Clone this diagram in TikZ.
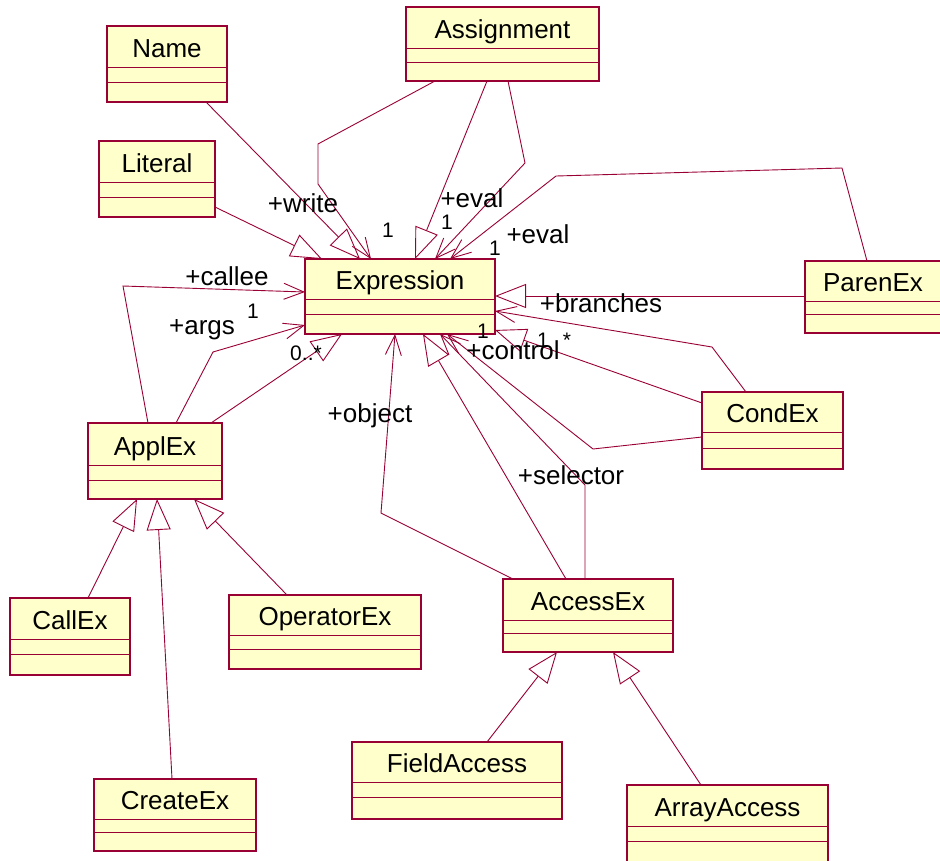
\documentclass[tikz,border=0pt]{standalone}
\usepackage{fontspec}
\setmainfont{Liberation Sans}
\usetikzlibrary{arrows.meta}

\definecolor{umlline}{RGB}{153,0,51}
\definecolor{umlfill}{RGB}{255,255,204}

\tikzset{
  classbox/.style={draw=umlline, fill=umlfill, line width=1.3pt,
    inner sep=0pt, outer sep=0pt, anchor=north west},
  compline/.style={draw=umlline, line width=1pt},
  classname/.style={font=\fontsize{26}{30}\selectfont, anchor=base, inner sep=0pt},
  rolelabel/.style={font=\fontsize{26}{30}\selectfont, anchor=base, inner sep=0pt},
  multlabel/.style={font=\fontsize{21}{24}\selectfont, anchor=base, inner sep=0pt},
  link/.style={draw=umlline, line width=0.9pt},
  assoc/.style={link, -{Straight Barb[length=20pt,width=16pt]}},
  inherit/.style={link, -{Triangle[open,length=31pt,width=24pt]}},
}

% \umlclass{name}{x1}{y1}{x2}{y2}{first divider y}{second divider y}{title}
\newcommand{\umlclass}[8]{%
  \node[classbox, minimum width={#4pt-#2pt}, minimum height={#5pt-#3pt}] (#1) at (#2,#3) {};
  \draw[compline] (#2,#6) -- (#4,#6) (#2,#7) -- (#4,#7);
  \node[classname] (#1-title) at ({(#2+#4)/2},{#6-9.5}) {#8};
}

\begin{document}
\begin{tikzpicture}[x=1pt,y=-1pt]
  \useasboundingbox (0,0) rectangle (940,860);

  % classes
  \umlclass{name}{107}{26}{227}{102}{67}{82}{Name}
  \umlclass{asg}{406}{7}{599}{81}{48}{62}{Assignment}
  \umlclass{lit}{99}{141}{215}{217}{182}{197}{Literal}
  \umlclass{expr}{305}{259}{495}{334}{299}{314}{Expression}
  \umlclass{paren}{805}{261}{941}{333}{301}{314}{ParenEx}
  \umlclass{cond}{702}{392}{843}{469}{432}{448}{CondEx}
  \umlclass{appl}{88}{423}{222}{499}{465}{480}{ApplEx}
  \umlclass{acc}{503}{579}{673}{652}{620}{633}{AccessEx}
  \umlclass{call}{10}{598}{130}{675}{639}{654}{CallEx}
  \umlclass{oper}{229}{595}{421}{669}{635}{649}{OperatorEx}
  \umlclass{create}{94}{779}{256}{851}{819}{832}{CreateEx}
  \umlclass{field}{352}{742}{562}{819}{782}{797}{FieldAccess}
  \umlclass{array}{627}{785}{828}{862}{826}{841}{ArrayAccess}

  % generalizations
  \draw[inherit] ([xshift=99pt]name.south west) -- ([xshift=55pt]expr.north west);
  \draw[inherit] ([yshift=10pt]lit.south east) -- ([xshift=17pt]expr.north west);
  \draw[inherit] ([xshift=81pt]asg.south west) -- ([xshift=110pt]expr.north west);
  \draw[inherit] ([yshift=-35pt]paren.north west) -- ([yshift=-37pt]expr.north east);
  \draw[inherit] ([yshift=-11pt]cond.north west) -- ([yshift=4pt]expr.south east);
  \draw[inherit] ([xshift=63pt]acc.north west) -- ([xshift=118pt]expr.south west);
  \draw[inherit] ([xshift=123pt]appl.north west) -- ([xshift=37pt]expr.south west);
  \draw[inherit] ([xshift=78pt]call.north west) -- ([xshift=49pt]appl.south west);
  \draw[inherit] ([xshift=78pt]create.north west) -- ([xshift=69pt]appl.south west);
  \draw[inherit] ([xshift=58pt]oper.north west) -- ([xshift=106pt]appl.south west);
  \draw[inherit] ([xshift=135pt]field.north west) -- ([xshift=54pt]acc.south west);
  \draw[inherit] ([xshift=74pt]array.north west) -- ([xshift=110pt]acc.south west);

  % associations
  \draw[assoc] ([xshift=29pt]asg.south west) -- (318,144) -- (318,184)
    -- ([xshift=66pt]expr.north west);
  \draw[assoc] ([xshift=102pt]asg.south west) -- (525,163)
    -- ([xshift=130pt]expr.north west);
  \draw[assoc] ([xshift=62pt]paren.north west) -- (842,168) -- (556,176)
    -- ([xshift=145pt]expr.north west);
  \draw[assoc] ([xshift=44pt]cond.north west) -- (712,347)
    -- ([yshift=-52pt]expr.north east);
  \draw[assoc] ([yshift=-45pt]cond.north west) -- (593,449)
    -- ([xshift=142pt]expr.south west);
  \draw[assoc] ([xshift=10pt]acc.north west) -- (381,513)
    -- ([xshift=90pt]expr.south west);
  \draw[assoc] ([xshift=82pt]acc.north west) -- (585,485)
    -- ([xshift=135pt]expr.south west);
  \draw[assoc] ([xshift=60pt]appl.north west) -- (123,286)
    -- ([yshift=-33pt]expr.north west);
  \draw[assoc] ([xshift=88pt]appl.north west) -- (213,352)
    -- ([yshift=-66pt]expr.north west);

  % role names and multiplicities
  \node[rolelabel] (l-write) at (303,212) {+write};
  \node[multlabel] (m-write) at (388,237) {1};
  \node[rolelabel] (l-eval1) at (472,207) {+eval};
  \node[multlabel] (m-eval1) at (447,229) {1};
  \node[rolelabel] (l-eval2) at (538,243) {+eval};
  \node[multlabel] (m-eval2) at (495,255) {1};
  \node[rolelabel] (l-callee) at (227,285) {+callee};
  \node[rolelabel] (l-args) at (202,334) {+args};
  \node[multlabel] (m-args) at (253,318) {1};
  \node[multlabel] (m-args2) at (306,360) {0..*};
  \node[rolelabel] (l-branches) at (601,312) {+branches};
  \node[multlabel] (m-inner) at (483,338) {1};
  \node[rolelabel] (l-control) at (513,359) {+control};
  \node[multlabel] (m-ctl) at (543,347) {1};
  \node[multlabel] (m-star) at (567,347) {*};
  \node[rolelabel] (l-object) at (370,422) {+object};
  \node[rolelabel] (l-selector) at (571,484) {+selector};
\end{tikzpicture}
\end{document}
